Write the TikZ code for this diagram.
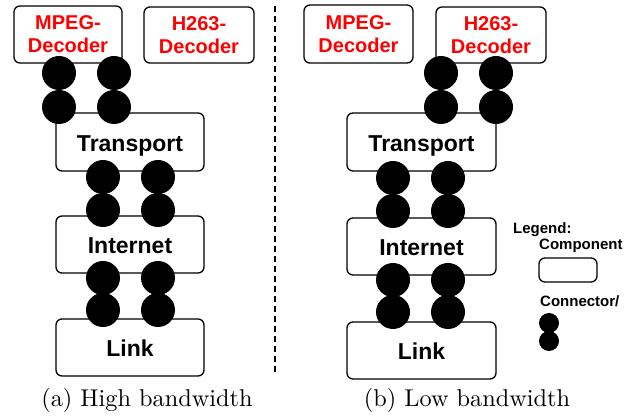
\documentclass[tikz,border=0pt]{standalone}
\usepackage{fontspec}
\newfontfamily\boxfont{Liberation Sans}[BoldFont={* Bold}]
\newfontfamily\capfont{lmroman10-regular}[Extension=.otf]
\begin{document}
\begin{tikzpicture}[x=1pt,y=-1pt,
  comp/.style={draw=black,line width=1.3pt,rounded corners=6pt,fill=white,inner sep=0pt},
  conn/.style={circle,fill=black,inner sep=0pt,minimum size=34pt},
  smallconn/.style={circle,fill=black,inner sep=0pt,minimum size=20pt},
  lbl/.style={font=\boxfont\bfseries\fontsize{23}{23}\selectfont,text height=19pt,text depth=0pt,inner sep=0pt},
  redlbl/.style={font=\boxfont\bfseries\fontsize{20}{23}\selectfont,text=red,align=center,inner sep=0pt},
  leg/.style={font=\boxfont\bfseries\fontsize{15}{15}\selectfont,anchor=base west,inner sep=0pt},
  captext/.style={font=\capfont\fontsize{24.3}{28}\selectfont,anchor=base,inner sep=0pt}]
\useasboundingbox (0,0) rectangle (643,419);
% ---------- left panel ----------
\draw[comp] (14,6) rectangle (122,63);
\node[redlbl] (lmpeg) at (68,34.5) {MPEG-\\Decoder};
\draw[comp] (144,7) rectangle (254,63);
\node[redlbl] (lh263) at (199,35) {H263-\\Decoder};
\draw[comp] (56,113) rectangle (204,171);
\node[lbl] (ltrans) at (130,142) {Transport};
\draw[comp] (56,216) rectangle (204,273);
\node[lbl] (linet) at (130,244.5) {Internet};
\draw[comp] (56,319) rectangle (204,376);
\node[lbl] (llink) at (130,347.5) {Link};
\node[conn] (la1) at (59,73) {};
\node[conn] (la2) at (59,107) {};
\node[conn] (lb1) at (114,73) {};
\node[conn] (lb2) at (114,107) {};
\node[conn] (lc1) at (103,177) {};
\node[conn] (lc2) at (103,210) {};
\node[conn] (ld1) at (158,177) {};
\node[conn] (ld2) at (158,210) {};
\node[conn] (le1) at (103,278) {};
\node[conn] (le2) at (103,310) {};
\node[conn] (lf1) at (158,278) {};
\node[conn] (lf2) at (158,310) {};
\node[captext] (capa) at (147,407) {(a) High bandwidth};
% ---------- divider ----------
\coordinate (dtop) at (275,6);
\coordinate (dbot) at (275,375);
\draw[line width=1.5pt,dash pattern=on 6pt off 4pt] (dtop) -- (dbot);
% ---------- right panel ----------
\draw[comp] (304,5) rectangle (413,63);
\node[redlbl] (rmpeg) at (358.5,34) {MPEG-\\Decoder};
\draw[comp] (436,7) rectangle (546,63);
\node[redlbl] (rh263) at (491,35) {H263-\\Decoder};
\draw[comp] (347,113) rectangle (496,171);
\node[lbl] (rtrans) at (421.5,142) {Transport};
\draw[comp] (347,218) rectangle (496,275);
\node[lbl] (rinet) at (421.5,246.5) {Internet};
\draw[comp] (347,322) rectangle (496,379);
\node[lbl] (rlink) at (421.5,350.5) {Link};
\node[conn] (ra1) at (441,73) {};
\node[conn] (ra2) at (441,107) {};
\node[conn] (rb1) at (496,73) {};
\node[conn] (rb2) at (496,107) {};
\node[conn] (rc1) at (393,178) {};
\node[conn] (rc2) at (393,211) {};
\node[conn] (rd1) at (448,178) {};
\node[conn] (rd2) at (448,211) {};
\node[conn] (re1) at (393,280) {};
\node[conn] (re2) at (393,312) {};
\node[conn] (rf1) at (448,280) {};
\node[conn] (rf2) at (448,312) {};
\node[captext] (capb) at (467,407) {(b) Low bandwidth};
% ---------- legend ----------
\node[leg] (legt) at (513,233.5) {Legend:};
\node[leg] (legc) at (539,250) {Component};
\draw[comp] (539,258) rectangle (597,282);
\node[leg] (legn) at (540,307) {Connector/};
\node[smallconn] (lg1) at (549,323) {};
\node[smallconn] (lg2) at (549,341) {};
\end{tikzpicture}
\end{document}
